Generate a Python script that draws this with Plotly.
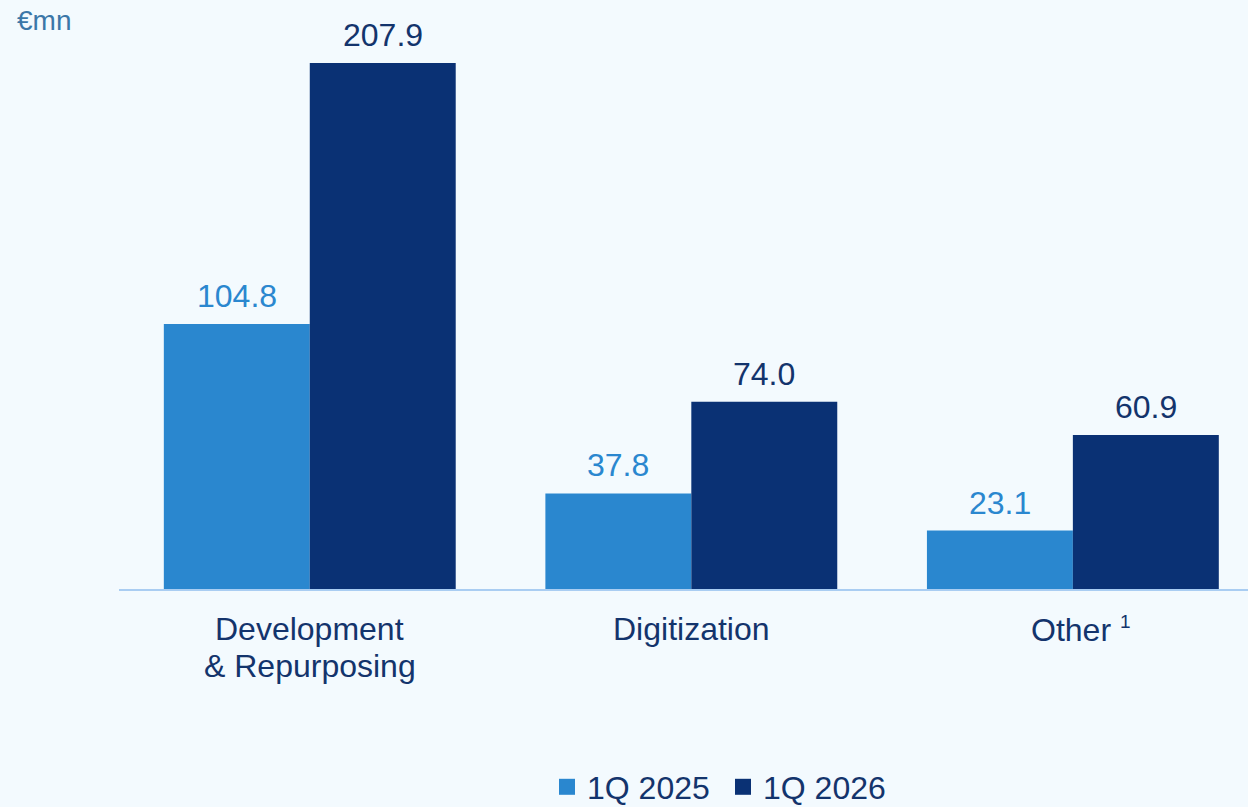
import plotly.graph_objects as go

categories = ["Development\n& Repurposing", "Digitization", "Other"]
category_notes = ["", "", "1"]
series_names = ["1Q 2025", "1Q 2026"]
values_2025 = [104.8, 37.8, 23.1]
values_2026 = [207.9, 74.0, 60.9]

c_light = "#2a87cf"
c_dark = "#0a3174"
txt_dark = "#13346c"
bg = "#f3fafe"
font_family = "Liberation Sans, Arial, sans-serif"

x_idx = list(range(len(categories)))

fig = go.Figure()
fig.add_trace(go.Bar(x=x_idx, y=values_2025, name=series_names[0], marker_color=c_light,
                     marker_line_width=0, offsetgroup="a", showlegend=False))
fig.add_trace(go.Bar(x=x_idx, y=values_2026, name=series_names[1], marker_color=c_dark,
                     marker_line_width=0, offsetgroup="b", showlegend=False))
# legend entries with larger square swatches
for name, col in zip(series_names, [c_light, c_dark]):
    fig.add_trace(go.Scatter(x=[None], y=[None], mode="markers", name=name,
                             marker=dict(symbol="square", size=17, color=col, line_width=0)))

ann = []
for i, (a, b) in enumerate(zip(values_2025, values_2026)):
    ann.append(dict(x=i, y=a, text=f"{a:.1f}", showarrow=False, xshift=-73, yshift=28,
                    yanchor="middle", font=dict(size=32, color=c_light, family=font_family)))
    ann.append(dict(x=i, y=b, text=f"{b:.1f}", showarrow=False, xshift=73, yshift=28,
                    yanchor="middle", font=dict(size=32, color=txt_dark, family=font_family)))

for i, (cat, note) in enumerate(zip(categories, category_notes)):
    for j, line in enumerate(cat.split("\n")):
        txt = line + (f" <sup><span style='font-size:19px'>{note}</span></sup>" if note else "")
        ann.append(dict(x=i, xref="x", yref="paper", y=0, yanchor="middle", showarrow=False,
                        yshift=-40 - 37 * j, xshift=8 if note else 0, text=txt,
                        font=dict(size=32, color=txt_dark, family=font_family)))

ann.append(dict(xref="paper", yref="paper", x=-104 / 1129, y=1 - 10 / 579, xanchor="left",
                yanchor="middle", text="€mn", showarrow=False,
                font=dict(size=28, color="#3b77a8", family=font_family)))

fig.update_layout(
    width=1248, height=807,
    paper_bgcolor=bg, plot_bgcolor=bg,
    margin=dict(l=119, r=0, t=10, b=218),
    barmode="group", bargap=0.235, bargroupgap=0,
    font=dict(family=font_family, color=txt_dark),
    showlegend=True,
    legend=dict(orientation="h", x=(547 - 119) / 1129, xanchor="left",
                yref="container", y=1 - 787 / 807, yanchor="middle",
                font=dict(size=32, color=txt_dark), entrywidth=131, entrywidthmode="pixels",
                bgcolor="rgba(0,0,0,0)", traceorder="normal"),
    annotations=ann,
)
fig.update_xaxes(range=[-0.5, 2.459], showticklabels=False, showline=True, linecolor="#a9cdf2",
                 linewidth=2, showgrid=False, zeroline=False, ticks="")
fig.update_yaxes(range=[0, 228.9], visible=False, showgrid=False, zeroline=False)

fig.write_html("out.html", config={"displayModeBar": False},
               post_script="document.body.style.margin='0';document.body.style.overflow='hidden';")
